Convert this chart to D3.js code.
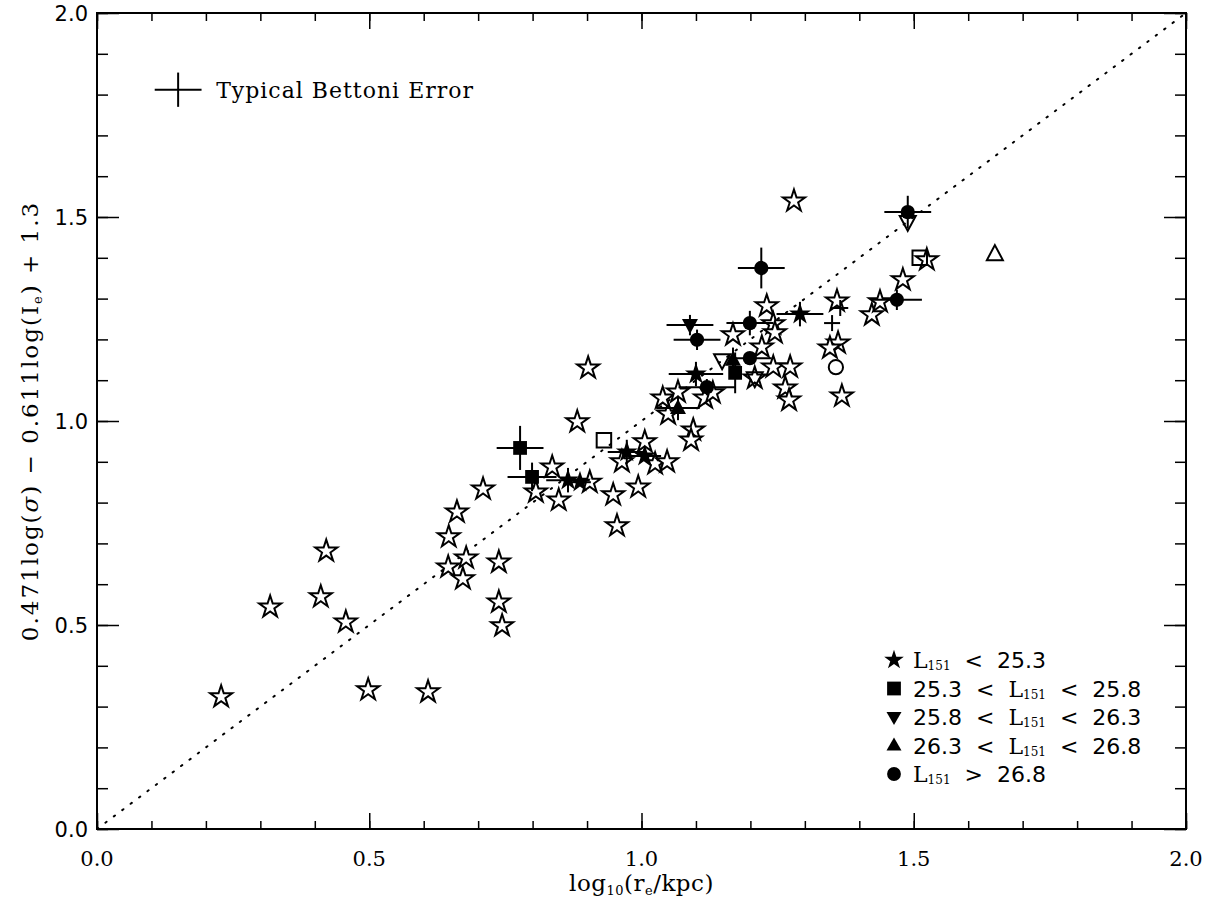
<!DOCTYPE html>
<html>
<head>
<meta charset="utf-8">
<script src="https://cdn.jsdelivr.net/npm/d3@7"></script>
<style>
  body { margin: 0; background: #fff; }
  text { fill: #000; white-space: pre; }
</style>
</head>
<body>
<svg id="chart" width="1207" height="901"></svg>
<script>
// open stars (no L151 info) : [log re, FP combination]
const openStars = [
  [0.228, 0.324], [0.318, 0.544], [0.421, 0.681], [0.411, 0.569], [0.457, 0.507],
  [0.498, 0.341], [0.608, 0.336], [0.709, 0.833], [0.661, 0.777], [0.646, 0.716],
  [0.645, 0.642], [0.678, 0.664], [0.672, 0.613], [0.738, 0.654], [0.738, 0.556],
  [0.744, 0.498], [0.806, 0.826], [0.836, 0.887], [0.848, 0.806], [0.882, 0.998],
  [0.902, 1.130], [0.905, 0.850], [0.948, 0.819], [0.955, 0.743], [0.994, 0.838],
  [0.964, 0.900], [1.006, 0.949], [1.025, 0.895], [1.047, 0.900], [1.095, 0.978],
  [1.091, 0.953], [1.049, 1.017], [1.039, 1.056], [1.067, 1.071], [1.117, 1.056],
  [1.131, 1.069], [1.168, 1.211], [1.208, 1.105], [1.221, 1.181], [1.230, 1.282],
  [1.242, 1.238], [1.245, 1.216], [1.242, 1.132], [1.273, 1.132], [1.264, 1.081],
  [1.271, 1.051], [1.280, 1.539], [1.359, 1.294], [1.361, 1.191], [1.346, 1.179],
  [1.368, 1.061], [1.423, 1.260], [1.438, 1.292], [1.480, 1.346], [1.524, 1.395]
];

// filled symbols with errors : [x, y, xerr, yerr]
const filledStars = [
  [1.291, 1.262, 0.043, 0.030], [1.100, 1.115, 0.050, 0.030], [0.973, 0.924, 0.035, 0.030],
  [1.006, 0.914, 0.030, 0.000], [0.865, 0.855, 0.040, 0.030], [0.887, 0.850, 0.020, 0.000]
];
const filledSquares = [
  [0.777, 0.934, 0.043, 0.054], [0.799, 0.863, 0.045, 0.035], [1.172, 1.118, 0.000, 0.050]
];
const filledDown = [
  [1.089, 1.235, 0.043, 0.025]
];
const filledUp = [
  [1.067, 1.032, 0.040, 0.030], [1.168, 1.150, 0.000, 0.030]
];
const filledCircles = [
  [1.489, 1.512, 0.043, 0.040], [1.220, 1.375, 0.043, 0.050], [1.199, 1.240, 0.043, 0.030],
  [1.102, 1.199, 0.043, 0.025], [1.199, 1.154, 0.040, 0.000], [1.120, 1.083, 0.052, 0.020],
  [1.469, 1.297, 0.046, 0.025]
];

// other open symbols
const openDown = [[1.489, 1.488], [1.148, 1.149], [1.208, 1.105]];
const openUp = [[1.649, 1.409]];
const openSquares = [[0.931, 0.953], [1.511, 1.400]];
const openCircles = [[1.357, 1.132]];
const plusPoints = [[1.350, 1.240], [1.365, 1.277]];

// typical error bar
const typicalErr = { x: 0.149, y: 1.812, xerr: 0.043, yerr: 0.042 };

const legendLabels = [
  ["star", ["", "L", "151", "  <  25.3"]],
  ["square", ["25.3  <  ", "L", "151", "  <  25.8"]],
  ["down", ["25.8  <  ", "L", "151", "  <  26.3"]],
  ["up", ["26.3  <  ", "L", "151", "  <  26.8"]],
  ["circle", ["", "L", "151", "  >  26.8"]]
];

const xTicks = [0.0, 0.5, 1.0, 1.5, 2.0];
const yTicks = [0.0, 0.5, 1.0, 1.5, 2.0];

const svg = d3.select('#chart');
const plotL = 97, plotR = 1186, plotT = 13, plotB = 829;

const x = d3.scaleLinear().domain([0, 2]).range([plotL, plotR]);
const y = d3.scaleLinear().domain([0, 2]).range([plotB, plotT]);

// symbol shapes
function shapePath(type) {
  if (type === 'star') return d3.symbol(d3.symbolStar, 150)();
  if (type === 'square') return d3.symbol(d3.symbolSquare, 190)();
  if (type === 'circle') return d3.symbol(d3.symbolCircle, 160)();
  if (type === 'up') return 'M0,-9L8,6L-8,6Z';
  if (type === 'down') return 'M0,9L8,-6L-8,-6Z';
}
function smallPath(type) {
  if (type === 'star') return d3.symbol(d3.symbolStar, 120)();
  if (type === 'square') return d3.symbol(d3.symbolSquare, 190)();
  if (type === 'circle') return d3.symbol(d3.symbolCircle, 150)();
  if (type === 'up') return 'M0,-8L7.5,5L-7.5,5Z';
  if (type === 'down') return 'M0,8L7.5,-5L-7.5,-5Z';
}

// 1:1 dotted line
svg.append('line')
  .attr('x1', x(0)).attr('y1', y(0))
  .attr('x2', x(2)).attr('y2', y(2))
  .attr('stroke', '#000').attr('stroke-width', 2)
  .attr('stroke-dasharray', '1.5 9').attr('stroke-linecap', 'round');

// open stars
svg.append('g').selectAll('path')
  .data(openStars)
  .join('path')
  .attr('d', shapePath('star'))
  .attr('transform', d => `translate(${x(d[0])},${y(d[1])})`)
  .attr('fill', '#fff').attr('stroke', '#000').attr('stroke-width', 2);

// other open symbols
const openGroups = [['down', openDown], ['up', openUp], ['square', openSquares], ['circle', openCircles]];
openGroups.forEach(([type, pts]) => {
  svg.append('g').selectAll('path')
    .data(pts)
    .join('path')
    .attr('d', type === 'square' ? d3.symbol(d3.symbolSquare, 210)() : shapePath(type))
    .attr('transform', d => `translate(${x(d[0])},${y(d[1])})`)
    .attr('fill', 'none').attr('stroke', '#000').attr('stroke-width', 2);
});

// plus symbols
const plusG = svg.append('g').attr('stroke', '#000').attr('stroke-width', 2);
plusPoints.forEach(d => {
  plusG.append('line').attr('x1', x(d[0]) - 8).attr('x2', x(d[0]) + 8)
    .attr('y1', y(d[1])).attr('y2', y(d[1]));
  plusG.append('line').attr('x1', x(d[0])).attr('x2', x(d[0]))
    .attr('y1', y(d[1]) - 8).attr('y2', y(d[1]) + 8);
});

// filled symbols with error bars
const filledGroups = [['star', filledStars], ['square', filledSquares], ['down', filledDown],
  ['up', filledUp], ['circle', filledCircles]];
const errG = svg.append('g').attr('stroke', '#000').attr('stroke-width', 2);
filledGroups.forEach(([type, pts]) => {
  pts.forEach(d => {
    if (d[2] > 0) errG.append('line')
      .attr('x1', x(d[0] - d[2])).attr('x2', x(d[0] + d[2]))
      .attr('y1', y(d[1])).attr('y2', y(d[1]));
    if (d[3] > 0) errG.append('line')
      .attr('x1', x(d[0])).attr('x2', x(d[0]))
      .attr('y1', y(d[1] - d[3])).attr('y2', y(d[1] + d[3]));
  });
});
filledGroups.forEach(([type, pts]) => {
  svg.append('g').selectAll('path')
    .data(pts)
    .join('path')
    .attr('d', shapePath(type))
    .attr('transform', d => `translate(${x(d[0])},${y(d[1])})`)
    .attr('fill', '#000');
});

// typical error
errG.append('line')
  .attr('x1', x(typicalErr.x - typicalErr.xerr)).attr('x2', x(typicalErr.x + typicalErr.xerr))
  .attr('y1', y(typicalErr.y)).attr('y2', y(typicalErr.y));
errG.append('line')
  .attr('x1', x(typicalErr.x)).attr('x2', x(typicalErr.x))
  .attr('y1', y(typicalErr.y - typicalErr.yerr)).attr('y2', y(typicalErr.y + typicalErr.yerr));
svg.append('text')
  .attr('x', x(typicalErr.x) + 38).attr('y', y(typicalErr.y) + 8)
  .attr('font-family', 'DejaVu Serif').attr('font-size', 22)
  .attr('letter-spacing', 1)
  .text('Typical Bettoni Error');

// axes
const xMinor = d3.range(0, 2.0001, 0.1);
const yMinor = d3.range(0, 2.0001, 0.1);
svg.append('g').attr('transform', `translate(0,${plotB})`)
  .call(d3.axisTop(x).tickValues(xMinor).tickSize(8).tickFormat(''))
  .call(g => g.select('.domain').remove());
svg.append('g').attr('transform', `translate(0,${plotB})`)
  .call(d3.axisTop(x).tickValues(xTicks).tickSize(16).tickFormat(''))
  .call(g => g.select('.domain').remove());
svg.append('g').attr('transform', `translate(0,${plotT})`)
  .call(d3.axisBottom(x).tickValues(xMinor).tickSize(8).tickFormat(''))
  .call(g => g.select('.domain').remove());
svg.append('g').attr('transform', `translate(0,${plotT})`)
  .call(d3.axisBottom(x).tickValues(xTicks).tickSize(16).tickFormat(''))
  .call(g => g.select('.domain').remove());
svg.append('g').attr('transform', `translate(${plotL},0)`)
  .call(d3.axisRight(y).tickValues(yMinor).tickSize(11).tickFormat(''))
  .call(g => g.select('.domain').remove());
svg.append('g').attr('transform', `translate(${plotL},0)`)
  .call(d3.axisRight(y).tickValues(yTicks).tickSize(22).tickFormat(''))
  .call(g => g.select('.domain').remove());
svg.append('g').attr('transform', `translate(${plotR},0)`)
  .call(d3.axisLeft(y).tickValues(yMinor).tickSize(11).tickFormat(''))
  .call(g => g.select('.domain').remove());
svg.append('g').attr('transform', `translate(${plotR},0)`)
  .call(d3.axisLeft(y).tickValues(yTicks).tickSize(22).tickFormat(''))
  .call(g => g.select('.domain').remove());
svg.selectAll('.tick line').attr('stroke', '#000').attr('stroke-width', 1.5);

svg.append('rect')
  .attr('x', plotL).attr('y', plotT)
  .attr('width', plotR - plotL).attr('height', plotB - plotT)
  .attr('fill', 'none').attr('stroke', '#000').attr('stroke-width', 2);

// tick labels
svg.append('g').selectAll('text')
  .data(xTicks)
  .join('text')
  .attr('x', d => x(d)).attr('y', plotB + 37)
  .attr('text-anchor', 'middle')
  .attr('font-family', 'DejaVu Serif').attr('font-size', 21)
  .text(d => d.toFixed(1));
svg.append('g').selectAll('text')
  .data(yTicks)
  .join('text')
  .attr('x', plotL - 9).attr('y', d => y(d) + 8)
  .attr('text-anchor', 'end')
  .attr('font-family', 'DejaVu Sans').attr('font-size', 21)
  .text(d => d.toFixed(1));

// axis titles
const xt = svg.append('text')
  .attr('x', x(1)).attr('y', 891)
  .attr('text-anchor', 'middle')
  .attr('font-family', 'DejaVu Serif').attr('font-size', 23)
  .attr('letter-spacing', 0.5);
xt.append('tspan').text('log');
xt.append('tspan').attr('font-size', 13).attr('dy', 4).text('10');
xt.append('tspan').attr('dy', -4).text('(r');
xt.append('tspan').attr('font-size', 13).attr('dy', 4).text('e');
xt.append('tspan').attr('dy', -4).text('/kpc)');

const yt = svg.append('text')
  .attr('transform', `translate(38,${y(1)}) rotate(-90)`)
  .attr('text-anchor', 'middle')
  .attr('font-family', 'DejaVu Serif').attr('font-size', 23)
  .attr('letter-spacing', 2);
yt.append('tspan').text('0.471log(');
yt.append('tspan').attr('font-style', 'italic').text('σ');
yt.append('tspan').text(') − 0.611log(I');
yt.append('tspan').attr('font-size', 13).attr('dy', 4).text('e');
yt.append('tspan').attr('dy', -4).text(') + 1.3');

// legend
const lg = svg.append('g');
legendLabels.forEach(([type, parts], i) => {
  const ly = 660 + i * 28.5;
  lg.append('path').attr('d', smallPath(type))
    .attr('transform', `translate(894,${ly})`).attr('fill', '#000');
  const t = lg.append('text').attr('x', 913).attr('y', ly + 8)
    .attr('font-family', 'DejaVu Sans').attr('font-size', 22);
  if (parts[0]) t.append('tspan').text(parts[0]);
  t.append('tspan').attr('font-family', 'DejaVu Serif').text(parts[1]);
  t.append('tspan').attr('font-family', 'DejaVu Serif').attr('font-size', 12).attr('dy', 2).text(parts[2]);
  t.append('tspan').attr('dy', -2).text(parts[3]);
});
</script>
</body>
</html>
